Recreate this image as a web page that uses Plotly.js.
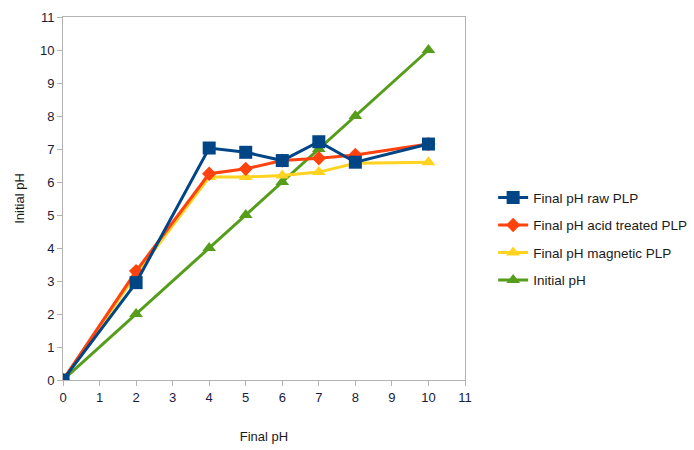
<!DOCTYPE html>
<html><head><meta charset="utf-8">
<script src="https://cdn.plot.ly/plotly-3.0.1.min.js"></script>
<style>body{margin:0;background:#fff}#c{width:694px;height:450px}</style>
</head><body><div id="c"></div>
<script>
const xVals = [0, 2, 4, 5, 6, 7, 8, 10];
const rawPLP = [0, 2.95, 7.03, 6.9, 6.65, 7.22, 6.6, 7.15];
const acidPLP = [0, 3.3, 6.25, 6.4, 6.65, 6.72, 6.82, 7.15];
const magPLP = [0, 3.2, 6.15, 6.15, 6.2, 6.3, 6.57, 6.6];
const initialPH = [0, 2, 4, 5, 6, 7, 8, 10];
const names = ["Final pH raw PLP", "Final pH acid treated PLP", "Final pH magnetic PLP", "Initial pH"];
const colors = ["#004586", "#ff420e", "#ffd320", "#579d1c"];
const symbols = ["square", "diamond", "triangle-up", "triangle-up"];
const sizes = [13, 11, 12, 12];
const series = [rawPLP, acidPLP, magPLP, initialPH];
const order = [3, 2, 1, 0];
const traces = order.map(i => ({
  x: xVals, y: series[i], name: names[i], type: 'scatter', mode: 'lines+markers',
  legendgroup: 'g' + i, legendrank: i + 1,
  line: {color: colors[i], width: 3},
  marker: {color: colors[i], symbol: symbols[i], size: sizes[i]}
}));
const font = "Liberation Sans, Arial, sans-serif";
const axisCommon = {
  showgrid: false, zeroline: false, showline: true, linecolor: '#b3b3b3', linewidth: 1,
  mirror: true, ticks: 'outside', ticklen: 5, tickcolor: '#b3b3b3',
  tickfont: {family: font, size: 13, color: '#1a1a3a'}, dtick: 1, tick0: 0
};
Plotly.newPlot('c', traces, {
  width: 694, height: 450,
  margin: {l: 63, r: 229, t: 17, b: 70, autoexpand: false},
  paper_bgcolor: '#fff', plot_bgcolor: '#fff',
  showlegend: true,
  legend: {x: 1.07, y: 0.545, xanchor: 'left', yanchor: 'top', traceorder: 'grouped',
    font: {family: font, size: 13.5, color: '#1a1a1a'}, tracegroupgap: 7, itemwidth: 30},
  xaxis: Object.assign({}, axisCommon, {range: [0, 11], automargin: false,
    title: {text: 'Final pH', font: {family: font, size: 13, color: '#1a1a1a'}, standoff: 28}}),
  yaxis: Object.assign({}, axisCommon, {range: [0, 11], automargin: false,
    title: {text: 'Initial pH', font: {family: font, size: 13, color: '#1a1a1a'}, standoff: 12}})
}, {displayModeBar: false});
</script></body></html>
